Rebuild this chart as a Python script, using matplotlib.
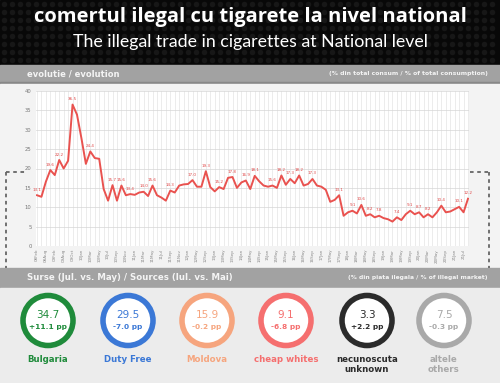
import numpy as np
import matplotlib
matplotlib.use("Agg")
import matplotlib.pyplot as plt
from matplotlib.patches import Rectangle, Circle

# ---------------- data ----------------
values = [13.1, 12.7, 16.6, 19.6, 18.3, 22.2, 20.0, 22.0, 36.5, 33.9, 27.8, 21.2, 24.4, 22.7, 22.5,
          14.7, 11.7, 15.7, 11.7, 15.6, 13.1, 13.4,
          13.2, 13.8, 14.0, 12.9, 15.6, 13.1, 12.5, 11.7, 14.3, 13.8, 15.6, 15.9, 16.0, 17.0, 15.3,
          15.3, 19.3, 15.2, 14.1, 15.2, 14.7, 17.6, 17.8, 15.0,
          16.4, 16.9, 14.7, 18.1, 16.7, 15.6, 15.3, 15.6, 15.0, 18.2, 15.8, 17.3, 16.2, 18.2, 15.6,
          16.0, 17.3, 15.6, 15.3, 14.5,
          11.4, 11.9, 13.1, 7.8, 8.7, 9.1, 8.4, 10.6,
          7.8, 8.2, 7.4, 7.8, 7.2, 6.9, 6.3, 7.4, 6.7, 8.2, 9.1, 8.2, 8.7, 7.4, 8.2, 7.4, 8.7, 10.4,
          8.7, 8.9, 9.5, 10.1, 8.7, 12.2]

tick_labels = ["08Feb", "08Aug", "09Feb", "09Aug", "09Oct", "10Jan", "10Mar", "10May", "10Jul",
               "10Sep", "10Nov", "11Jan", "11Mar", "11May", "11Jul", "11Sep", "11Nov", "12Jan",
               "12May", "12Sep", "13Jan", "13May", "13Sep", "14Jan", "14May", "14Sep", "15Jan",
               "15May", "15Sep", "16Jan", "16May", "16Sep", "17Jan", "17May", "17Sep", "18Jan",
               "18Mar", "18May", "18Sep", "19Jan", "19Mar", "19May", "19Sep", "20Jan", "20Mar",
               "20May", "20Sep", "21Jan", "21Jul"]

src_names1 = ["Bulgaria", "Duty Free", "Moldova", "cheap whites", "necunoscuta", "altele"]
src_names2 = ["", "", "", "", "unknown", "others"]
src_values = [34.7, 29.5, 15.9, 9.1, 3.3, 7.5]
src_changes = ["+11.1 pp", "-7.0 pp", "-0.2 pp", "-6.8 pp", "+2.2 pp", "-0.3 pp"]
src_colors = ["#1f8b3b", "#3b78d6", "#f6a57e", "#f56f6f", "#2b2b2b", "#a9a9a9"]

title = "comertul ilegal cu tigarete la nivel national"
subtitle = "The illegal trade in cigarettes at National level"

# ---------------- figure ----------------
fig = plt.figure(figsize=(5, 3.83), dpi=100)
bg = fig.add_axes([0, 0, 1, 1])
bg.set_xlim(0, 500)
bg.set_ylim(383, 0)
bg.axis("off")

# header
bg.add_patch(Rectangle((0, 0), 500, 65, color="#080808", zorder=0))
gx, gy = np.meshgrid(np.arange(4, 500, 8), np.arange(4, 64, 8))
bg.scatter(gx.ravel(), gy.ravel(), s=16, color="#171717", lw=0, zorder=1)
bg.text(250, 17, title, color="white", fontsize=14.5, fontweight="bold",
        family="Open Sans", ha="center", va="center", zorder=2)
bg.text(250, 42, subtitle, color="white", fontsize=12.8,
        family="Lato", ha="center", va="center", zorder=2)

# bars and panels
bg.add_patch(Rectangle((0, 65), 500, 17, color="#a2a2a2", zorder=0))
bg.add_patch(Rectangle((0, 82), 500, 1.5, color="#888888", zorder=0))
bg.add_patch(Rectangle((0, 83.5), 500, 184.5, color="#f3f3f3", zorder=0))
bg.add_patch(Rectangle((0, 268), 500, 20, color="#a2a2a2", zorder=0))
bg.add_patch(Rectangle((0, 288), 500, 95, color="#ececec", zorder=0))

bg.text(27, 74, "evolutie / evolution", color="#f4f4f4", fontsize=6.0,
        fontweight="bold", ha="left", va="center")
bg.text(488, 74, "(% din total consum / % of total consumption)", color="#f4f4f4",
        fontsize=4.4, fontweight="bold", ha="right", va="center")
bg.text(27, 278, "Surse (Jul. vs. May) / Sources (Iul. vs. Mai)", color="#f4f4f4",
        fontsize=6.2, fontweight="bold", ha="left", va="center")
bg.text(488, 278, "(% din piata ilegala / % of illegal market)", color="#f4f4f4",
        fontsize=4.3, fontweight="bold", ha="right", va="center")

# dashed brackets
dash = dict(color="#666666", lw=1.3, linestyle=(0, (2, 2)), zorder=3)
bg.plot([6, 25], [172, 172], **dash)
bg.plot([6, 6], [172, 268], **dash)
bg.plot([470, 489], [172, 172], **dash)
bg.plot([489, 489], [172, 268], **dash)

# source circles
centers = [48, 128, 207, 286, 367, 444]
for cx, nm1, nm2, v, ch, c in zip(centers, src_names1, src_names2, src_values,
                                  src_changes, src_colors):
    bg.add_patch(Circle((cx, 320.5), 25, facecolor="white", edgecolor=c, lw=4.0, zorder=2))
    bg.text(cx, 315.5, f"{v:.1f}", color=c, fontsize=7.5, ha="center", va="center", zorder=3)
    bg.text(cx, 327.5, ch, color=c, fontsize=5.3, fontweight="bold", ha="center",
            va="center", zorder=3)
    bg.text(cx, 359.5, nm1, color=c, fontsize=6.2, fontweight="bold", ha="center", va="center")
    if nm2:
        bg.text(cx, 370, nm2, color=c, fontsize=6.2, fontweight="bold", ha="center",
                va="center")

# ---------------- line chart ----------------
n = len(values)
x = np.arange(n)
step = 431 / (n - 1)
pad = 0.3
left_px = 37 - pad * step
width_px = 431 + 2 * pad * step
ax = fig.add_axes([left_px / 500, 1 - 246 / 383, width_px / 500, 155 / 383])
ax.set_facecolor("white")
ax.set_xlim(-pad, n - 1 + pad)
ax.set_ylim(0, 40)
for s in ax.spines.values():
    s.set_visible(False)
for xi in x:
    ax.axvline(xi, color="#e4e4e4", lw=0.5, zorder=0)
for yv in range(0, 41, 5):
    ax.axhline(yv, color="#d6d6d6", lw=0.5, zorder=0)
ax.set_yticks(range(0, 41, 5))
ax.tick_params(axis="y", length=0, labelsize=3.8, labelcolor="#777777", pad=3)
ax.set_xticks(x[::2])
ax.set_xticklabels(tick_labels[:len(x[::2])], rotation=90, fontsize=3.0, color="#8a8a8a")
ax.tick_params(axis="x", length=0, pad=2)

ax.plot(x, values, color="#e9524f", lw=1.4, zorder=3, solid_joinstyle="round")
for i, v in enumerate(values):
    prev_v = values[i - 1] if i > 0 else -1
    next_v = values[i + 1] if i < n - 1 else -1
    if v >= prev_v and v >= next_v:
        ax.annotate(f"{v:.1f}", (i, v), xytext=(0, 2.5), textcoords="offset points",
                    ha="center", va="bottom", fontsize=3.0, color="#e04848", zorder=4)

fig.savefig("out.png", dpi=100)
